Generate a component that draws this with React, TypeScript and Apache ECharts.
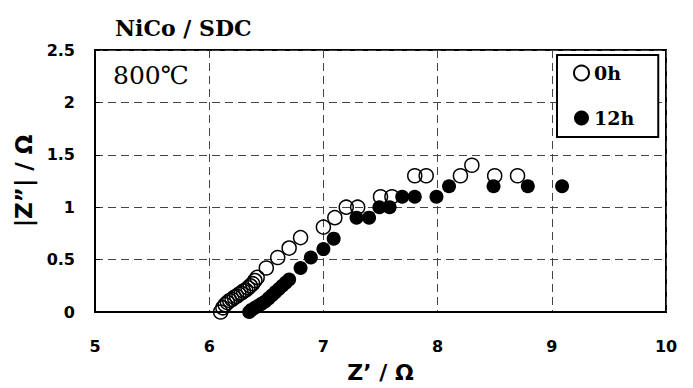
import React, { useEffect, useRef } from "react";
import * as echarts from "echarts";

const xTicks = [5, 6, 7, 8, 9, 10];
const yTicks = [0, 0.5, 1, 1.5, 2, 2.5];

const h0X = [6.10, 6.12, 6.14, 6.16, 6.18, 6.20, 6.22, 6.24, 6.26, 6.28, 6.30, 6.32, 6.34, 6.36, 6.38, 6.40, 6.42,
  6.50, 6.60, 6.70, 6.80, 7.00, 7.10, 7.20, 7.30, 7.50, 7.60, 7.80, 7.90, 8.20, 8.30, 8.50, 8.70];
const h0Y = [0.00, 0.04, 0.07, 0.09, 0.11, 0.12, 0.14, 0.15, 0.17, 0.18, 0.20, 0.21, 0.23, 0.25, 0.27, 0.30, 0.33,
  0.42, 0.52, 0.61, 0.71, 0.81, 0.90, 1.00, 1.00, 1.10, 1.10, 1.30, 1.30, 1.30, 1.40, 1.30, 1.30];

const h12X = [6.35, 6.37, 6.40, 6.43, 6.46, 6.49, 6.52, 6.55, 6.58, 6.61, 6.64, 6.67, 6.70,
  6.80, 6.89, 7.00, 7.09, 7.29, 7.40, 7.49, 7.58, 7.69, 7.80, 7.99, 8.10, 8.49, 8.79, 9.09];
const h12Y = [0.00, 0.02, 0.04, 0.06, 0.08, 0.10, 0.13, 0.16, 0.19, 0.22, 0.25, 0.28, 0.31,
  0.42, 0.52, 0.60, 0.70, 0.90, 0.90, 1.00, 1.00, 1.10, 1.10, 1.10, 1.20, 1.20, 1.20, 1.20];

const seriesNames = ["0h", "12h"];

export default function App() {
  const ref = useRef<HTMLDivElement>(null);
  useEffect(() => {
    if (!ref.current) return;
    const chart = echarts.init(ref.current, undefined, { renderer: "svg" });
    const tickFont = { fontFamily: "DejaVu Sans", fontWeight: "bold" as const, fontSize: 16, color: "#000" };
    const split = { show: true, lineStyle: { color: "#444", type: [8, 5] as number[], width: 1 } };
    chart.setOption({
      animation: false,
      backgroundColor: "#fff",
      title: {
        text: "NiCo / SDC",
        left: 110,
        top: 12,
        textStyle: { fontFamily: "DejaVu Serif", fontWeight: "bold", fontSize: 22, color: "#000" },
      },
      grid: {
        left: 95, right: 27, top: 50, bottom: 75,
        show: true, borderColor: "#000", borderWidth: 2, backgroundColor: "transparent",
      },
      legend: {
        data: seriesNames,
        orient: "vertical",
        left: 557,
        top: 55,
        itemWidth: 15,
        itemHeight: 15,
        itemGap: 25,
        padding: [8, 24, 9, 16],
        borderColor: "#000",
        borderWidth: 2,
        backgroundColor: "#fff",
        textStyle: { fontFamily: "DejaVu Serif", fontWeight: "bold", fontSize: 19, color: "#000", lineHeight: 20 },
      },
      graphic: [
        {
          type: "text",
          left: 113,
          top: 63,
          style: { text: "800℃", fontFamily: "DejaVu Serif", fontSize: 25, fill: "#000" },
        },
      ],
      xAxis: {
        type: "value",
        min: xTicks[0],
        max: xTicks[xTicks.length - 1],
        interval: 1,
        name: "Z’ / Ω",
        nameLocation: "middle",
        nameGap: 49,
        nameTextStyle: { fontFamily: "DejaVu Sans", fontWeight: "bold", fontSize: 22, color: "#000" },
        axisLine: { show: true, lineStyle: { color: "#000", width: 2 } },
        axisTick: { show: false },
        axisLabel: { ...tickFont, margin: 26 },
        splitLine: split,
      },
      yAxis: {
        type: "value",
        min: yTicks[0],
        max: yTicks[yTicks.length - 1],
        interval: 0.5,
        name: "|Z”| / Ω",
        nameLocation: "middle",
        nameGap: 58,
        nameTextStyle: { fontFamily: "DejaVu Sans", fontWeight: "bold", fontSize: 23, color: "#000" },
        axisLine: { show: true, lineStyle: { color: "#000", width: 2 } },
        axisTick: { show: true, inside: true, length: 5, lineStyle: { color: "#000" } },
        axisLabel: { ...tickFont, margin: 20, formatter: (v: number) => String(v) },
        splitLine: split,
      },
      series: [
        {
          name: seriesNames[0],
          type: "scatter",
          symbol: "circle",
          symbolSize: 14,
          data: h0X.map((x, i) => [x, h0Y[i]]),
          itemStyle: { color: "rgba(255,255,255,0)", borderColor: "#000", borderWidth: 1.5, opacity: 1 },
        },
        {
          name: seriesNames[1],
          type: "scatter",
          symbol: "circle",
          symbolSize: 14,
          data: h12X.map((x, i) => [x, h12Y[i]]),
          itemStyle: { color: "#000", opacity: 1 },
        },
      ],
    });
    return () => chart.dispose();
  }, []);
  return <div ref={ref} style={{ width: 693, height: 388, position: "absolute", left: 0, top: 0 }} />;
}
